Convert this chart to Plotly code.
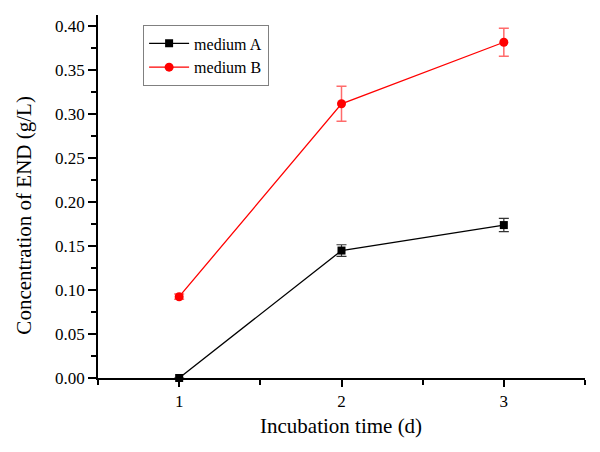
import plotly.graph_objects as go

days = [1, 2, 3]
medium_a = [0.0, 0.145, 0.174]
medium_a_err = [0.0, 0.0066, 0.0075]
medium_b = [0.0925, 0.312, 0.382]
medium_b_err = [0.003, 0.020, 0.016]
y_ticks = [0.00, 0.05, 0.10, 0.15, 0.20, 0.25, 0.30, 0.35, 0.40]
x_ticks = [1, 2, 3]
x_title = "Incubation time (d)"
y_title = "Concentration of END (g/L)"

ff = "Liberation Serif"

fig = go.Figure()
fig.add_trace(go.Scatter(
    x=days, y=medium_a, name="medium A", mode="lines+markers",
    line=dict(color="black", width=1.3),
    marker=dict(symbol="square", size=8, color="black"),
    error_y=dict(type="data", array=medium_a_err, color="#333333", thickness=1.2, width=5),
    cliponaxis=False,
))
fig.add_trace(go.Scatter(
    x=days, y=medium_b, name="medium B", mode="lines+markers",
    line=dict(color="#ff0000", width=1.3),
    marker=dict(symbol="circle", size=9, color="#ff0000"),
    error_y=dict(type="data", array=medium_b_err, color="#ff6b6b", thickness=1.5, width=5),
    cliponaxis=False,
))

fig.update_layout(
    width=600, height=452,
    margin=dict(l=98, r=15, t=15, b=74, autoexpand=False),
    paper_bgcolor="white", plot_bgcolor="white",
    font=dict(family=ff, color="black", size=16),
    showlegend=True,
    legend=dict(
        x=0.092, y=0.972, xanchor="left", yanchor="top",
        bordercolor="#808080", borderwidth=1.3, bgcolor="white",
        font=dict(family=ff, size=16, color="black"),
        itemwidth=40, tracegroupgap=0,
    ),
    xaxis=dict(
        range=[0.5, 3.5], tickvals=x_ticks, ticktext=[str(v) for v in x_ticks],
        showgrid=False, zeroline=False, showline=True, linecolor="black", linewidth=1.5,
        ticks="outside", ticklen=7, tickwidth=1.5, tickcolor="black",
        minor=dict(tickvals=[0.5, 1.5, 2.5, 3.5], ticks="outside", ticklen=5, tickwidth=1.5, tickcolor="black"),
        tickfont=dict(family=ff, size=17, color="black"),
        automargin=False,
    ),
    yaxis=dict(
        range=[0, 0.413], tickvals=y_ticks, tickformat=".2f",
        showgrid=False, zeroline=False, showline=True, linecolor="black", linewidth=1.5,
        ticks="outside", ticklen=8, tickwidth=1.5, tickcolor="black",
        minor=dict(tickvals=[0.025, 0.075, 0.125, 0.175, 0.225, 0.275, 0.325, 0.375], ticks="outside", ticklen=5, tickwidth=1.5, tickcolor="black"),
        tickfont=dict(family=ff, size=17, color="black"),
        automargin=False,
    ),
    annotations=[
        dict(text=x_title, xref="paper", yref="paper", x=0.499, y=-0.132,
             xanchor="center", yanchor="middle", showarrow=False,
             font=dict(family=ff, size=21, color="black")),
        dict(text=y_title, xref="paper", yref="paper", x=-0.152, y=0.45,
             xanchor="center", yanchor="middle", showarrow=False, textangle=-90,
             font=dict(family=ff, size=21, color="black")),
    ],
)

fig.write_html("out.html", config={"displayModeBar": False},
               post_script="document.body.style.margin='0px';")
